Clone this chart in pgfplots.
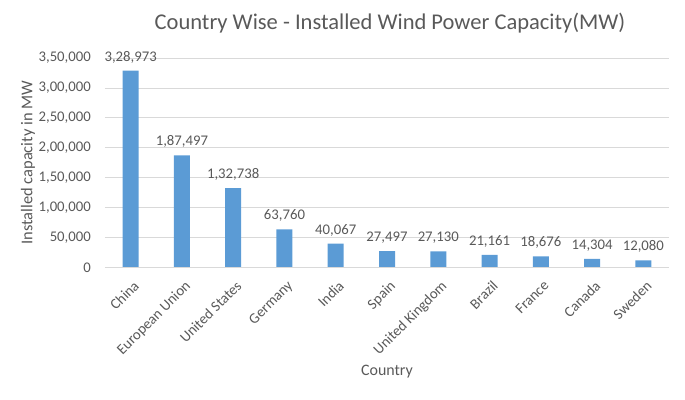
\documentclass[border=0pt]{standalone}
\usepackage{pgfplots}
\pgfplotsset{compat=1.18}
\usepackage{pgfplotstable}
\usepackage{fontspec}
\setmainfont{Carlito}
\definecolor{barblue}{HTML}{5B9BD5}
\definecolor{txtgray}{HTML}{595959}
\definecolor{gridgray}{HTML}{D9D9D9}
\pgfplotstableread{
x y label
0 328973 3,28,973
1 187497 1,87,497
2 132738 1,32,738
3 63760 63,760
4 40067 40,067
5 27497 27,497
6 27130 27,130
7 21161 21,161
8 18676 18,676
9 14304 14,304
10 12080 12,080
}\datatable
\begin{document}
\begin{tikzpicture}
\begin{axis}[
  name=ax,
  scale only axis,
  width=564bp, height=209.5bp,
  xmin=-0.5, xmax=10.5,
  ymin=0, ymax=350000,
  scaled y ticks=false,
  axis line style={draw=none},
  ytick={0,50000,100000,150000,200000,250000,300000,350000},
  yticklabels={0,{50,000},{1,00,000},{1,50,000},{2,00,000},{2,50,000},{3,00,000},{3,50,000}},
  xtick={0,...,10},
  xticklabels={China,European Union,United States,Germany,India,Spain,United Kingdom,Brazil,France,Canada,Sweden},
  major tick length=0pt,
  ymajorgrids,
  grid style={draw=gridgray, line width=0.75pt},
  tick label style={font=\fontsize{14.8}{17}\selectfont, text=txtgray},
  xticklabel style={xshift=2bp, yshift=-12bp, rotate=45, anchor=north east, inner sep=0pt},
  yticklabel style={anchor=east, inner sep=0pt, xshift=-14bp},
  clip=false,
]
\addplot[ybar, bar width=16bp, fill=barblue, draw=none,
  nodes near coords, point meta=explicit symbolic,
  every node near coord/.append style={font=\fontsize{14.8}{17}\selectfont, text=txtgray, yshift=4bp}]
  table[x=x, y=y, meta=label] {\datatable};
\draw[gridgray, line width=0.75pt] (axis cs:-0.5,0) -- (axis cs:10.5,0);
\end{axis}
\node[font=\fontsize{22.6}{26}\selectfont, text=txtgray] at ([xshift=3bp,yshift=35bp]ax.north) {Country Wise - Installed Wind Power Capacity(MW)};
\node[font=\fontsize{16.5}{19}\selectfont, text=txtgray, rotate=90] at ([xshift=-77bp]ax.west) {Installed capacity in MW};
\node[font=\fontsize{16}{19}\selectfont, text=txtgray] at ([yshift=-104bp]ax.south) {Country};
\pgfresetboundingbox
\path ([xshift=-105bp,yshift=-132bp]ax.south west) rectangle ([xshift=16bp,yshift=58bp]ax.north east);
\end{tikzpicture}
\end{document}
